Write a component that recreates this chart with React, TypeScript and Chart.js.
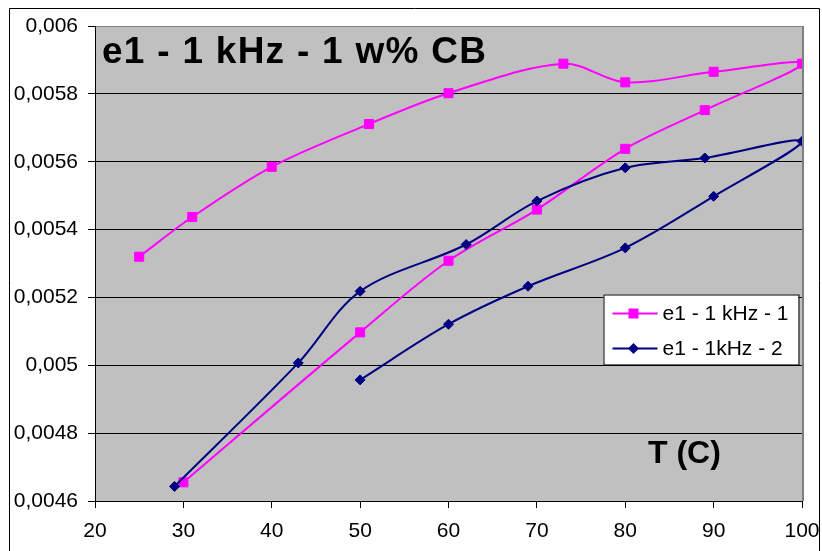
import React, { useEffect, useRef } from 'react';
import { Chart, registerables } from 'chart.js';

Chart.register(...registerables);

const TITLE = 'e1 - 1 kHz - 1 w% CB';
const X_LABEL = 'T (C)';
const SERIES_NAMES = ['e1 - 1 kHz - 1', 'e1 - 1kHz - 2'];
const SERIES_COLORS = ['#FF00FF', '#000080'];

const series1T = [25, 31, 40, 51, 60, 73, 80, 90, 100, 89, 80, 70, 60, 50, 30];
const series1E = [0.00532, 0.005437, 0.005585, 0.005711, 0.005802, 0.005889, 0.005834, 0.005865, 0.005889, 0.005752, 0.005638, 0.005459, 0.005308, 0.005097, 0.004655];

const series2T = [29, 43, 50, 62, 70, 80, 89, 100, 90, 80, 69, 60, 50];
const series2E = [0.004643, 0.005007, 0.005218, 0.005356, 0.005484, 0.005582, 0.005611, 0.00566, 0.005498, 0.005346, 0.005233, 0.005121, 0.004957];

const xTicks = [20, 30, 40, 50, 60, 70, 80, 90, 100];
const yTicks = [0.0046, 0.0048, 0.005, 0.0052, 0.0054, 0.0056, 0.0058, 0.006];

const FONT = '"Liberation Sans", Arial, sans-serif';

const decor = {
  id: 'decor',
  beforeDraw(chart: any) {
    const { ctx, chartArea: a, width, height } = chart;
    ctx.save();
    ctx.fillStyle = '#ffffff';
    ctx.fillRect(0, 0, width, height);
    ctx.fillStyle = '#C0C0C0';
    ctx.fillRect(a.left, a.top, a.right - a.left, a.bottom - a.top);
    ctx.strokeStyle = '#000';
    ctx.lineWidth = 1;
    ctx.beginPath();
    ctx.moveTo(9.5, height + 5);
    ctx.lineTo(9.5, 8.5);
    ctx.lineTo(819.5, 8.5);
    ctx.lineTo(819.5, height + 5);
    ctx.stroke();
    ctx.restore();
  },
  beforeDatasetsDraw(chart: any) {
    const { ctx, chartArea: a } = chart;
    ctx.save();
    ctx.strokeStyle = '#808080';
    ctx.lineWidth = 2;
    ctx.beginPath();
    ctx.moveTo(a.right + 1, a.bottom);
    ctx.lineTo(a.right + 1, a.top);
    ctx.stroke();
    // title inside plot
    ctx.fillStyle = '#000';
    ctx.textBaseline = 'alphabetic';
    ctx.textAlign = 'left';
    ctx.font = 'bold 37px ' + FONT;
    const w0 = ctx.measureText(TITLE).width;
    const sp = Math.max(0, (384 - w0) / (TITLE.length - 1));
    (ctx as any).letterSpacing = sp.toFixed(2) + 'px';
    ctx.fillText(TITLE, a.left + 7, a.top + 37);
    (ctx as any).letterSpacing = '0px';
    ctx.font = 'bold 32px ' + FONT;
    ctx.fillText(X_LABEL, a.right - 154, a.bottom - 38);
    ctx.restore();
  },
  afterDatasetsDraw(chart: any) {
    const { ctx, chartArea: a } = chart;
    const bx = a.right - 198.5;
    const by = a.top + 268.5;
    const bw = 195;
    const bh = 70;
    ctx.save();
    ctx.fillStyle = '#fff';
    ctx.fillRect(bx, by, bw, bh);
    ctx.strokeStyle = '#000';
    ctx.lineWidth = 1;
    ctx.strokeRect(bx + 0.5, by + 0.5, bw, bh);
    ctx.font = '21px ' + FONT;
    ctx.textBaseline = 'middle';
    ctx.textAlign = 'left';
    chart.data.datasets.forEach((ds: any, i: number) => {
      const cy = by + 19 + i * 35;
      const x0 = bx + 9;
      const x1 = bx + 54;
      ctx.strokeStyle = ds.borderColor;
      ctx.lineWidth = 2;
      ctx.beginPath();
      ctx.moveTo(x0, cy);
      ctx.lineTo(x1, cy);
      ctx.stroke();
      const mx = bx + 30;
      ctx.fillStyle = ds.backgroundColor;
      ctx.beginPath();
      if (ds.pointStyle === 'rect') {
        ctx.rect(mx - 5, cy - 5, 10, 10);
      } else {
        ctx.moveTo(mx - 5.5, cy);
        ctx.lineTo(mx, cy - 5.5);
        ctx.lineTo(mx + 5.5, cy);
        ctx.lineTo(mx, cy + 5.5);
        ctx.closePath();
      }
      ctx.fill();
      ctx.fillStyle = '#000';
      ctx.fillText(ds.label, bx + 59, cy + 1);
    });
    ctx.restore();
  },
};

export default function App() {
  const ref = useRef<HTMLCanvasElement>(null);
  useEffect(() => {
    if (!ref.current) return;
    const mk = (xs: number[], ys: number[]) => xs.map((x, i) => ({ x, y: ys[i] }));
    const chart = new Chart(ref.current, {
      type: 'scatter',
      data: {
        datasets: [
          {
            label: SERIES_NAMES[0],
            data: mk(series1T, series1E),
            showLine: true,
            borderColor: SERIES_COLORS[0],
            backgroundColor: SERIES_COLORS[0],
            borderWidth: 2,
            tension: 0.33,
            pointStyle: 'rect',
            pointRadius: 6.4,
            pointBorderWidth: 1,
            pointBorderColor: SERIES_COLORS[0],
            pointBackgroundColor: SERIES_COLORS[0],
            order: 2,
          },
          {
            label: SERIES_NAMES[1],
            data: mk(series2T, series2E),
            showLine: true,
            borderColor: SERIES_COLORS[1],
            backgroundColor: SERIES_COLORS[1],
            borderWidth: 2,
            tension: 0.33,
            pointStyle: 'rectRot',
            pointRadius: 5,
            pointBorderWidth: 1,
            pointBorderColor: SERIES_COLORS[1],
            pointBackgroundColor: SERIES_COLORS[1],
            order: 1,
          },
        ],
      },
      options: {
        animation: false,
        responsive: false,
        devicePixelRatio: 1,
        layout: { padding: { top: 26, right: 20, left: 0, bottom: 0 } },
        plugins: {
          legend: { display: false },
          title: { display: false },
          tooltip: { enabled: false },
        },
        scales: {
          x: {
            type: 'linear',
            min: 20,
            max: 100,
            afterBuildTicks: (s: any) => {
              s.ticks = xTicks.map((v) => ({ value: v }));
            },
            afterFit: (s: any) => {
              s.height = 50;
              s.paddingLeft = 0;
              s.paddingRight = 0;
            },
            border: { display: true, color: '#000', width: 1 },
            grid: { drawOnChartArea: false, drawTicks: true, tickLength: 7, color: '#000', tickColor: '#000' },
            ticks: {
              color: '#000',
              font: { family: FONT, size: 21 },
              padding: 11,
              maxRotation: 0,
              autoSkip: false,
            },
          },
          y: {
            type: 'linear',
            min: 0.0046,
            max: 0.006,
            afterBuildTicks: (s: any) => {
              s.ticks = yTicks.map((v) => ({ value: v }));
            },
            afterFit: (s: any) => {
              s.width = 95;
              s.paddingTop = 0;
              s.paddingBottom = 0;
            },
            border: { display: true, color: '#000', width: 1 },
            grid: {
              color: (c: any) => (c.tick && c.tick.value === 0.006 ? '#808080' : '#000'),
              tickColor: '#000',
              tickLength: 7,
              lineWidth: 1,
            },
            ticks: {
              color: '#000',
              font: { family: FONT, size: 21 },
              padding: 10,
              autoSkip: false,
              callback: (v: any) => String(v).replace('.', ','),
            },
          },
        },
      },
      plugins: [decor],
    });
    return () => chart.destroy();
  }, []);
  return (
    <div style={{ position: 'absolute', left: 0, top: 0, width: 822, height: 551 }}>
      <canvas ref={ref} width={822} height={551} style={{ display: 'block' }} />
    </div>
  );
}
